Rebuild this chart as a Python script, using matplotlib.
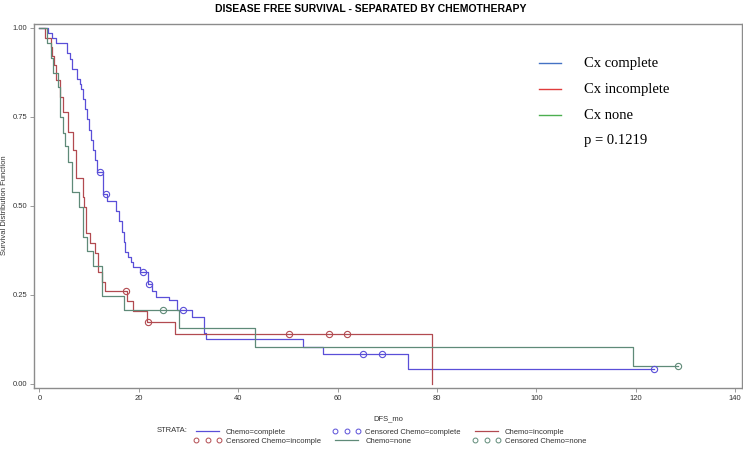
import matplotlib.pyplot as plt
from matplotlib.lines import Line2D

plt.rcParams["font.family"] = ["Liberation Sans", "DejaVu Sans"]

# Kaplan-Meier steps: (time in months, survival after the step)
complete_t = [0, 1.8, 2.6, 3.3, 5.5, 6.1, 6.5, 7.5, 8.1, 8.4, 8.7, 9.1, 9.5, 9.9,
              10.3, 10.8, 11.2, 11.6, 12.8, 13.6, 15.4, 16.0, 16.6, 17.0, 17.3,
              17.9, 18.4, 18.9, 20.2, 21.8, 22.6, 23.4, 26.1, 27.6, 30.6, 33.2,
              33.6, 53.0, 57.0, 74.2, 123.6]
complete_s = [1.0, 0.986, 0.971, 0.957, 0.929, 0.914, 0.886, 0.857, 0.843, 0.829,
              0.800, 0.771, 0.743, 0.714, 0.686, 0.657, 0.629, 0.594, 0.533, 0.515,
              0.486, 0.457, 0.428, 0.400, 0.372, 0.357, 0.343, 0.328, 0.314, 0.280,
              0.262, 0.245, 0.236, 0.209, 0.188, 0.144, 0.125, 0.104, 0.083, 0.042,
              0.042]
complete_cens_t = [12.1, 13.4, 20.9, 22.0, 28.9, 65.2, 69.0, 123.6]
complete_cens_s = [0.594, 0.533, 0.314, 0.280, 0.209, 0.083, 0.083, 0.042]

incomp_t = [0, 1.1, 2.25, 2.45, 2.9, 3.3, 4.1, 4.8, 5.8, 6.7, 7.3, 8.7, 8.9, 9.4,
            10.2, 11.2, 11.7, 12.5, 13.2, 17.7, 18.9, 21.6, 27.3, 79.0]
incomp_s = [1.0, 0.971, 0.947, 0.920, 0.896, 0.854, 0.807, 0.765, 0.709, 0.657,
            0.578, 0.526, 0.498, 0.423, 0.395, 0.367, 0.315, 0.287, 0.261, 0.233,
            0.205, 0.175, 0.140, 0.0]
incomp_cens_t = [17.4, 21.8, 50.3, 58.2, 61.9]
incomp_cens_s = [0.261, 0.175, 0.140, 0.140, 0.140]

none_t = [0, 1.6, 2.25, 2.65, 3.8, 4.1, 4.8, 5.1, 5.8, 6.5, 8.0, 8.8, 9.6, 10.7,
          12.5, 17.0, 28.1, 43.4, 119.5, 128.5]
none_s = [1.0, 0.958, 0.915, 0.873, 0.835, 0.751, 0.704, 0.667, 0.624, 0.540,
          0.498, 0.414, 0.374, 0.331, 0.248, 0.207, 0.157, 0.103, 0.050, 0.050]
none_cens_t = [24.9, 128.5]
none_cens_s = [0.207, 0.050]

c_blue = "#5a4fd8"
c_red = "#b24a50"
c_green = "#5f8a78"
grey = "#8c8c8c"
txt_col = "#333333"

fig = plt.figure(figsize=(7.43, 4.49), dpi=100)
ax = fig.add_axes([34 / 743, 1 - 387.7 / 449, (741.7 - 34) / 743, (387.7 - 24) / 449])

ax.step(complete_t, complete_s, where="post", color=c_blue, lw=0.9)
ax.step(incomp_t, incomp_s, where="post", color=c_red, lw=0.9)
ax.step(none_t, none_s, where="post", color=c_green, lw=0.9)
ax.plot(complete_cens_t, complete_cens_s, "o", ms=4.5, mfc="none", mec=c_blue, mew=0.8)
ax.plot(incomp_cens_t, incomp_cens_s, "o", ms=4.5, mfc="none", mec=c_red, mew=0.8)
ax.plot(none_cens_t, none_cens_s, "o", ms=4.5, mfc="none", mec=c_green, mew=0.8)

ax.set_xlim(-1.1, 141.3)
ax.set_ylim(-0.0104, 1.011)
ax.set_xticks([0, 20, 40, 60, 80, 100, 120, 140])
ax.set_yticks([0, 0.25, 0.5, 0.75, 1.0])
ax.set_yticklabels(["0.00", "0.25", "0.50", "0.75", "1.00"])
ax.tick_params(labelsize=5.5, length=3, width=0.6, pad=2, color=grey, labelcolor=txt_col)
for sp in ax.spines.values():
    sp.set_color(grey)
    sp.set_linewidth(1.0)

fig.text(371 / 743, 1 - 8.5 / 449, "DISEASE FREE SURVIVAL - SEPARATED BY CHEMOTHERAPY",
         ha="center", va="center", fontsize=7.5, fontweight="bold")
fig.text(388 / 743, 1 - 419 / 449, "DFS_mo", ha="center", va="center", fontsize=5.5,
         color=txt_col)
fig.text(5 / 743, 1 - 205 / 449, "Survival Distribution Function", rotation=90,
         ha="center", va="center", fontsize=5.5, color=txt_col)

# pasted key in the upper right
key_lines = ["#4472c4", "#e03c3c", "#4caf50"]
key_text = ["Cx complete", "Cx incomplete", "Cx none"]
key_y = [63.3, 89.3, 115.3]
for col, txt, yy in zip(key_lines, key_text, key_y):
    fig.add_artist(Line2D([539.3 / 743, 560.7 / 743], [1 - yy / 449, 1 - yy / 449],
                          color=col, lw=1.0))
    fig.text(584 / 743, 1 - yy / 449, txt, ha="left", va="center", fontsize=10.5,
             family="Liberation Serif")
fig.text(584 / 743, 1 - 140.7 / 449, "p = 0.1219", ha="left", va="center",
         fontsize=10.5, family="Liberation Serif")

# STRATA legend at the bottom
fig.text(157 / 743, 1 - 431 / 449, "STRATA:", ha="left", va="center", fontsize=5.5,
         color=txt_col)
h_comp = Line2D([], [], color=c_blue, lw=0.9)
h_inc = Line2D([], [], color=c_red, lw=0.9)
h_none = Line2D([], [], color=c_green, lw=0.9)
h_comp_c = Line2D([], [], ls="none", marker="o", ms=3.5, mfc="none", mec=c_blue, mew=0.7)
h_inc_c = Line2D([], [], ls="none", marker="o", ms=3.5, mfc="none", mec=c_red, mew=0.7)
h_none_c = Line2D([], [], ls="none", marker="o", ms=3.5, mfc="none", mec=c_green, mew=0.7)
handles = [h_comp, h_inc_c, h_comp_c, h_none, h_inc, h_none_c]
labels = ["Chemo=complete", "Censored Chemo=incomple", "Censored Chemo=complete",
          "Chemo=none", "Chemo=incomple", "Censored Chemo=none"]
fig.legend(handles, labels, ncol=3, loc="upper left",
           bbox_to_anchor=(190 / 743, 1 - 425 / 449), frameon=False, fontsize=5.5,
           numpoints=3, handlelength=3.6, handletextpad=0.6, columnspacing=1.6,
           labelspacing=0.2, borderpad=0, labelcolor=txt_col)

fig.savefig("out.png", dpi=100)
